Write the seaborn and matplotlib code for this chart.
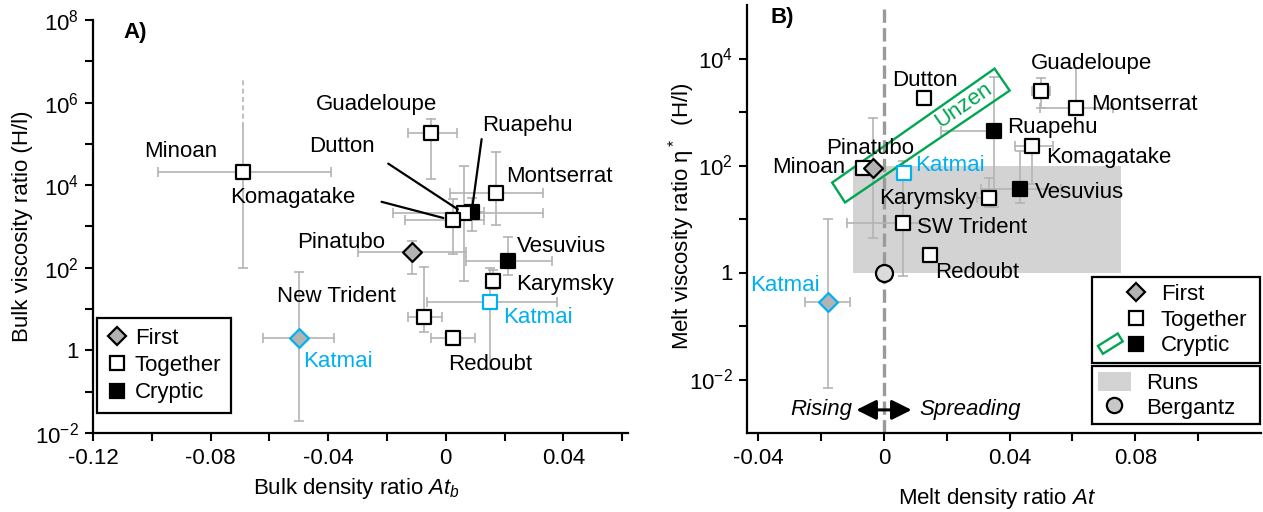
import numpy as np
import pandas as pd
import matplotlib
matplotlib.use("Agg")
import matplotlib.pyplot as plt
import matplotlib.patches as mpatches
from matplotlib.lines import Line2D
from matplotlib.legend_handler import HandlerPatch, HandlerTuple
from matplotlib.ticker import FixedLocator, FixedFormatter, NullFormatter
import seaborn as sns

nan = np.nan

# ---------------- Panel A: bulk ratios ----------------
a_name = ["Minoan", "Guadeloupe", "Komagatake", "Dutton", "Ruapehu", "Montserrat",
          "Pinatubo", "Vesuvius", "Karymsky", "Katmai", "New Trident", "Redoubt", "Katmai"]
a_kind = ["Together", "Together", "Together", "Together", "Cryptic", "Together",
          "First", "Cryptic", "Together", "Together", "Together", "Together", "First"]
a_at = [-0.069, -0.005, 0.0024, 0.0061, 0.0088, 0.017,
        -0.0116, 0.0211, 0.016, 0.015, -0.0075, 0.0025, -0.050]
a_eta = [2.1e4, 1.8e5, 1.4e3, 2.1e3, 2.2e3, 6.3e3,
         235, 150, 47, 14.5, 6.3, 2.0, 2.0]
a_at_lo = [-0.098, -0.013, -0.014, -0.018, 0.004, 0.0014,
           -0.030, 0.007, nan, -0.0065, -0.013, -0.005, -0.062]
a_at_hi = [-0.039, 0.0037, 0.013, 0.033, 0.013, 0.033,
           0.007, 0.036, nan, 0.038, -0.0014, 0.010, -0.038]
a_eta_lo = [1e2, 1.45e4, 2.1e2, 47, 8e2, 1.07e3,
            69, 66, 30, 0.35, 2.75, nan, 0.019]
a_eta_hi = [2.6e5, 3.9e5, 4.6e3, 2.9e4, 5e3, 6.2e4,
            437, 550, 90, 100, 107, nan, 78]
# Minoan's upper bound is open-ended (dashed)
minoan_eta_open = 4.0e6

# ---------------- Panel B: melt ratios ----------------
b_name = ["Dutton", "Guadeloupe", "Montserrat", "Ruapehu", "Komagatake", "Vesuvius",
          "Karymsky", "Katmai", "Pinatubo", "Minoan", "SW Trident", "Redoubt", "Katmai"]
b_kind = ["Together", "Together", "Together", "Cryptic", "Together", "Cryptic",
          "Together", "Together", "First", "Together", "Together", "Together", "First"]
b_at = [0.0127, 0.050, 0.061, 0.0349, 0.047, 0.0432,
        0.0333, 0.0063, -0.0035, -0.0067, 0.006, 0.0146, -0.0178]
b_eta = [1.8e3, 2.5e3, 1.2e3, 450, 230, 37,
         25, 71, 88, 88, 8.6, 2.1, 0.275]
b_at_lo = [nan, 0.047, 0.0495, 0.018, 0.0416, 0.031,
           0.0295, nan, nan, nan, -0.0117, nan, -0.025]
b_at_hi = [nan, 0.053, 0.073, 0.037, 0.0537, 0.0565,
           0.036, nan, nan, nan, 0.013, nan, -0.0108]
b_eta_lo = [nan, 1175, 933, 16.6, 45.7, 19.5,
            16.6, nan, 4.4, nan, 0.87, nan, 0.0068]
b_eta_hi = [nan, 4365, 6760, 4467, 316, 190,
            57.5, nan, 759, nan, 120, nan, 10.2]

# Unzen field (cryptic), corners in (At, eta)
unzen_at = [-0.0165, -0.0124, 0.0400, 0.0352]
unzen_eta = [47.9, 20.4, 2512, 6457]

# Range covered by the experimental runs
runs_at = [-0.010, 0.0755]
runs_eta = [1.0, 100.0]

# Bergantz reference point
berg_at = [0.0]
berg_eta = [1.0]

# Tick labels
a_xticks = [-0.12, -0.08, -0.04, 0.0, 0.04]
a_xticklabels = ["-0.12", "-0.08", "-0.04", "0", "0.04"]
a_yticks = [1e-2, 1, 1e2, 1e4, 1e6, 1e8]
a_yticklabels = ["10$^{-2}$", "1", "10$^{2}$", "10$^{4}$", "10$^{6}$", "10$^{8}$"]
b_xticks = [-0.04, 0.0, 0.04, 0.08]
b_xticklabels = ["-0.04", "0", "0.04", "0.08"]
b_yticks = [1e-2, 1, 1e2, 1e4]
b_yticklabels = ["10$^{-2}$", "1", "10$^{2}$", "10$^{4}$"]

# ---------------- style ----------------
sns.set_theme(style="ticks")
plt.rcParams["font.family"] = ["Liberation Sans", "DejaVu Sans"]
plt.rcParams["mathtext.fontset"] = "custom"
plt.rcParams["mathtext.rm"] = "Liberation Sans"
plt.rcParams["mathtext.it"] = "Liberation Sans:italic"
plt.rcParams["mathtext.default"] = "regular"
plt.rcParams["axes.unicode_minus"] = False
plt.rcParams["text.color"] = "black"
plt.rcParams["axes.labelcolor"] = "black"
plt.rcParams["xtick.color"] = "black"
plt.rcParams["ytick.color"] = "black"

FS = 16
CYAN = "#00b0f0"
GREEN = "#00a651"
ERR = "#b4b4b4"
DIAMOND_FILL = "#b3b3b3"

fig = plt.figure(figsize=(12.63, 5.12), dpi=100)
W, H = 1263, 512
axA = fig.add_axes([93 / W, 1 - 433 / H, 535 / W, 413 / H])
axB = fig.add_axes([747 / W, 1 - 433 / H, 514 / W, 428 / H])


def style_axes(ax, xlim, ylim, xmaj, xlab, xmin, ymaj, ylab, ymin):
    ax.set_yscale("log")
    ax.set_xlim(*xlim)
    ax.set_ylim(*ylim)
    ax.xaxis.set_major_locator(FixedLocator(xmaj))
    ax.xaxis.set_major_formatter(FixedFormatter(xlab))
    ax.xaxis.set_minor_locator(FixedLocator(xmin))
    ax.xaxis.set_minor_formatter(NullFormatter())
    ax.yaxis.set_major_locator(FixedLocator(ymaj))
    ax.yaxis.set_major_formatter(FixedFormatter(ylab))
    ax.yaxis.set_minor_locator(FixedLocator(ymin))
    ax.yaxis.set_minor_formatter(NullFormatter())
    for s in ["top", "right"]:
        ax.spines[s].set_visible(False)
    for s in ["left", "bottom"]:
        ax.spines[s].set_linewidth(1.6)
        ax.spines[s].set_color("black")
    ax.tick_params(which="both", direction="out", length=6, width=1.5,
                   color="black", labelsize=FS, labelcolor="black")
    ax.tick_params(axis="x", which="both", pad=5)
    ax.tick_params(axis="y", which="both", pad=4)
    ax.set_facecolor("white")


def draw_errors(ax, x, y, xlo, xhi, ylo, yhi, open_top=None):
    kw = dict(color=ERR, lw=1.2, zorder=2)
    ck = dict(ls="none", color=ERR, ms=7, mew=1.2, zorder=2)
    for i in range(len(x)):
        if not np.isnan(xlo[i]):
            ax.plot([xlo[i], xhi[i]], [y[i], y[i]], **kw)
            ax.plot([xlo[i], xhi[i]], [y[i], y[i]], marker="|", **ck)
        if not np.isnan(ylo[i]):
            ax.plot([x[i], x[i]], [ylo[i], yhi[i]], **kw)
            if open_top is not None and open_top[i]:
                ax.plot([x[i]], [ylo[i]], marker="_", **ck)
            else:
                ax.plot([x[i], x[i]], [ylo[i], yhi[i]], marker="_", **ck)


def draw_points(ax, df):
    looks = {
        ("First", False): dict(marker="D", s=92, color=DIAMOND_FILL, edgecolor="black"),
        ("First", True): dict(marker="D", s=92, color=DIAMOND_FILL, edgecolor=CYAN),
        ("Together", False): dict(marker="s", s=105, color="white", edgecolor="black"),
        ("Together", True): dict(marker="s", s=105, color="white", edgecolor=CYAN),
        ("Cryptic", False): dict(marker="s", s=105, color="black", edgecolor="black"),
    }
    # earlier rows sit on top where markers overlap
    for i, row in df.iterrows():
        lk = looks[(row["kind"], row["hl"])]
        sns.scatterplot(data=df.loc[[i]], x="at", y="eta", ax=ax, legend=False,
                        linewidth=1.6, zorder=4 + 0.01 * (len(df) - i), **lk)


def label_points(ax, df, dx, dy):
    for i, row in df.reset_index(drop=True).iterrows():
        if dx[i] is None:
            continue
        ax.annotate(row["name"], (row["at"], row["eta"]), xytext=(dx[i], dy[i]),
                    textcoords="offset pixels", ha="center", va="center",
                    fontsize=FS, color=CYAN if row["hl"] else "black", zorder=6)


dfA = pd.DataFrame(dict(name=a_name, kind=a_kind, at=a_at, eta=a_eta))
dfA["hl"] = dfA["name"] == "Katmai"
dfB = pd.DataFrame(dict(name=b_name, kind=b_kind, at=b_at, eta=b_eta))
dfB["hl"] = dfB["name"] == "Katmai"

# ================= Panel A =================
style_axes(axA, (-0.12, 0.062), (1e-2, 1e8),
           a_xticks, a_xticklabels, [-0.10, -0.06, -0.02, 0.02, 0.06],
           a_yticks, a_yticklabels, [1e-1, 1e1, 1e3, 1e5, 1e7])

open_top = [n == "Minoan" for n in a_name]
draw_errors(axA, a_at, a_eta, a_at_lo, a_at_hi, a_eta_lo, a_eta_hi, open_top)
axA.plot([a_at[0], a_at[0]], [a_eta_hi[0], minoan_eta_open], color=ERR, lw=1.2,
         ls=(0, (3, 2)), zorder=2)
draw_points(axA, dfA)

# labels (offsets in pixels from the marker); cluster labels use leader lines below
a_dx = [-62, -55, None, None, None, 64, -71, 54, 72, 48, -87, 37, 39]
a_dy = [20, 29, None, None, None, 17, 10, 14, -3, -15, 21, -27, -24]
label_points(axA, dfA, a_dx, a_dy)

lead = dict(arrowstyle="-", color="black", lw=1.6)
k = a_name.index("Komagatake")
axA.annotate("Komagatake", (a_at[k], a_eta[k]), xytext=(-160, 23),
             textcoords="offset pixels", ha="center", va="center", fontsize=FS,
             color="black",
             arrowprops=dict(**lead, shrinkA=17, shrinkB=7, relpos=(1, 0.62)), zorder=6)
k = a_name.index("Dutton")
axA.annotate("Dutton", (a_at[k], a_eta[k]), xytext=(-122, 67),
             textcoords="offset pixels", ha="center", va="center", fontsize=FS,
             color="black",
             arrowprops=dict(**lead, shrinkA=9, shrinkB=5, relpos=(1, 0.1)), zorder=6)
k = a_name.index("Ruapehu")
axA.annotate("Ruapehu", (a_at[k], a_eta[k]), xytext=(56, 87),
             textcoords="offset pixels", ha="center", va="center", fontsize=FS,
             color="black",
             arrowprops=dict(**lead, shrinkA=0, shrinkB=4, relpos=(0, 0.1)), zorder=6)

axA.set_xlabel(r"Bulk density ratio $\mathit{At_b}$", fontsize=FS)
axA.set_ylabel("Bulk viscosity ratio (H/l)", fontsize=FS)
axA.xaxis.set_label_coords(0.493, -0.105)
axA.yaxis.set_label_coords(-0.112, 0.5)
axA.text(0.0785, 0.969, "A)", transform=axA.transAxes, fontsize=FS,
         fontweight="bold", ha="center", va="center")

legA_handles = [
    Line2D([], [], ls="none", marker="D", ms=9.6, mfc=DIAMOND_FILL, mec="black", mew=1.6),
    Line2D([], [], ls="none", marker="s", ms=10.2, mfc="white", mec="black", mew=1.6),
    Line2D([], [], ls="none", marker="s", ms=10.2, mfc="black", mec="black", mew=1.6),
]
legA = axA.legend(legA_handles, ["First", "Together", "Cryptic"], loc="upper left",
                  bbox_to_anchor=(4 / 535, (433 - 318) / 413), borderaxespad=0,
                  fontsize=FS, frameon=True, fancybox=False, framealpha=1,
                  edgecolor="black", handlelength=0.9, handletextpad=0.35,
                  labelspacing=0.28, borderpad=0.45)
legA.get_frame().set_linewidth(1.6)

# ================= Panel B =================
style_axes(axB, (-0.0436, 0.12), (1e-3, 1e5),
           b_xticks, b_xticklabels, [-0.02, 0.02, 0.06, 0.10],
           b_yticks, b_yticklabels, [1e-1, 1e1, 1e3])

axB.fill_between(runs_at, runs_eta[0], runs_eta[1], color="#d3d3d4", lw=0, zorder=0.5)
axB.axvline(0, color="#9a9a9a", lw=2.4, ls=(0, (4, 1.6)), zorder=1)

unzen = mpatches.Polygon(np.column_stack([unzen_at, unzen_eta]), closed=True,
                         fill=False, edgecolor=GREEN, lw=1.7, zorder=3)
axB.add_patch(unzen)
axB.annotate("Unzen", (np.mean(unzen_at), 10 ** np.mean(np.log10(unzen_eta))),
             xytext=(43, 31), textcoords="offset pixels",
             rotation=34.6, rotation_mode="anchor", ha="center", va="center",
             fontsize=FS, color=GREEN, zorder=6)

draw_errors(axB, b_at, b_eta, b_at_lo, b_at_hi, b_eta_lo, b_eta_hi)
draw_points(axB, dfB)
dfBerg = pd.DataFrame(dict(at=berg_at, eta=berg_eta))
sns.scatterplot(data=dfBerg, x="at", y="eta", ax=axB, marker="o", s=150,
                color="#dadada", edgecolor="black", linewidth=1.6, zorder=4, legend=False)

b_dx = [1, 50, 69, 59, 77, 60, -61, 46, -3, -54, 69, 47, -43]
b_dy = [18, 27, 3, 3, -11, -4, -1, 8, 20, 1, -5, -17, 17]
label_points(axB, dfB, b_dx, b_dy)

# direction arrow along the bottom
axB.annotate("", xy=(0.0088, 0.054), xytext=(-0.0088, 0.054),
             xycoords=axB.get_xaxis_transform(), textcoords=axB.get_xaxis_transform(),
             arrowprops=dict(arrowstyle="<|-|>", color="black", lw=2.2,
                             mutation_scale=30, shrinkA=0, shrinkB=0), zorder=6)
axB.text(-0.0102, 0.054, "Rising", transform=axB.get_xaxis_transform(),
         fontsize=FS, style="italic", ha="right", va="center")
axB.text(0.0114, 0.054, "Spreading", transform=axB.get_xaxis_transform(),
         fontsize=FS, style="italic", ha="left", va="center")

axB.set_xlabel(r"Melt density ratio $\mathit{At}$", fontsize=FS)
axB.set_ylabel("Melt viscosity ratio η$^*$  (H/l)", fontsize=FS)
axB.xaxis.set_label_coords(0.487, -0.124)
axB.yaxis.set_label_coords(-0.097, 0.507)
axB.text(0.068, 0.970, "B)", transform=axB.transAxes, fontsize=FS,
         fontweight="bold", ha="center", va="center")


def parallelogram(legend, orig_handle, xdescent, ydescent, width, height, fontsize):
    cx = width / 2 - xdescent
    cy = height / 2 - ydescent
    L, T, ang = width * 1.0, height * 0.6, np.deg2rad(32)
    u = np.array([np.cos(ang), np.sin(ang)]) * L / 2
    v = np.array([-np.sin(ang), np.cos(ang)]) * T / 2
    c = np.array([cx, cy])
    pts = [c - u - v, c + u - v, c + u + v, c - u + v]
    return mpatches.Polygon(pts, closed=True)


blank = Line2D([], [], ls="none")
hb_first = Line2D([], [], ls="none", marker="D", ms=9.6, mfc=DIAMOND_FILL, mec="black", mew=1.6)
hb_tog = Line2D([], [], ls="none", marker="s", ms=10.2, mfc="white", mec="black", mew=1.6)
hb_cry = Line2D([], [], ls="none", marker="s", ms=10.2, mfc="black", mec="black", mew=1.6)
hb_unz = mpatches.Polygon([[0, 0], [1, 0], [1, 1]], closed=True, fill=False,
                          edgecolor=GREEN, lw=1.7)
hmap = {tuple: HandlerTuple(ndivide=None, pad=0.1),
        mpatches.Polygon: HandlerPatch(patch_func=parallelogram)}
lw_x0 = (1092 - 747) / 514
lw_w = (1260 - 1092) / 514
legB1 = axB.legend([(blank, hb_first), (blank, hb_tog), (hb_unz, hb_cry)],
                   ["First", "Together", "Cryptic"], handler_map=hmap,
                   loc="upper left", mode="expand",
                   bbox_to_anchor=(lw_x0, 0, lw_w, (433 - 277) / 428), borderaxespad=0,
                   fontsize=FS, frameon=True, fancybox=False, framealpha=1,
                   edgecolor="black", handlelength=2.2, handletextpad=0.6,
                   labelspacing=0.22, borderpad=0.3)
legB1.get_frame().set_linewidth(1.6)
axB.add_artist(legB1)

hb_runs = mpatches.Patch(color="#d3d3d4", lw=0)
hb_berg = Line2D([], [], ls="none", marker="o", ms=11, mfc="#c8c8c8", mec="black", mew=1.6)
legB2 = axB.legend([hb_runs, hb_berg], ["Runs", "Bergantz"], loc="upper left",
                   mode="expand", bbox_to_anchor=(lw_x0, 0, lw_w, (433 - 366) / 428),
                   borderaxespad=0, fontsize=FS, frameon=True, fancybox=False,
                   framealpha=1, edgecolor="black", handlelength=1.5,
                   handleheight=1.0, handletextpad=0.7, labelspacing=0.1, borderpad=0.25)
legB2.get_frame().set_linewidth(1.6)

fig.savefig("out.png", dpi=100, facecolor="white")
